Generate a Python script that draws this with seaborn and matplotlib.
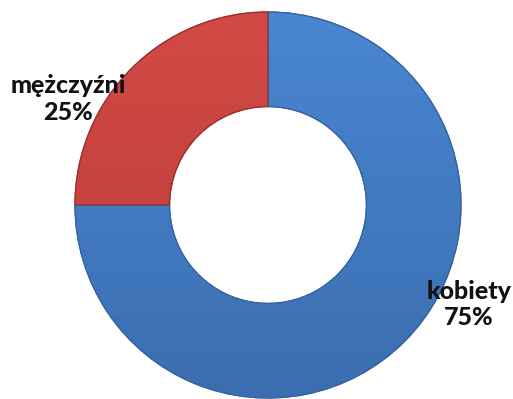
import matplotlib
matplotlib.use("Agg")
import matplotlib.pyplot as plt
import numpy as np
import seaborn as sns
from matplotlib.colors import LinearSegmentedColormap
from matplotlib.patches import PathPatch

categories = ["kobiety", "mężczyźni"]
shares = [75, 25]
colors = ["#4580c8", "#cb4541"]
shade_top = ["#4a86d2", "#d24a45"]
shade_bottom = ["#3b6eb0", "#ba3b38"]
edge_colors = ["#35639f", "#9a2f2c"]

sns.set_theme(style="white")
plt.rcParams["font.family"] = ["Lato", "DejaVu Sans"]

fig = plt.figure(figsize=(5.13, 3.99), dpi=100)
ax = fig.add_axes([0, 0, 1, 1])

wedges, _ = ax.pie(
    shares,
    startangle=90,
    counterclock=False,
    colors=colors,
    radius=1.0,
    wedgeprops=dict(width=0.49, linewidth=0.9),
)

# soft vertical shading inside each ring segment
grad = np.linspace(1, 0, 256).reshape(-1, 1)
for w, top, bot, ec in zip(wedges, shade_top, shade_bottom, edge_colors):
    w.set_edgecolor(ec)
    cmap = LinearSegmentedColormap.from_list("shade", [bot, top])
    im = ax.imshow(grad, cmap=cmap, extent=(-1, 1, -1, 1), aspect="auto",
                   zorder=w.get_zorder() + 0.1, interpolation="bilinear")
    im.set_clip_path(w)
    outline = PathPatch(w.get_path(), transform=w.get_transform(),
                        facecolor="none", edgecolor=ec, linewidth=0.9,
                        zorder=w.get_zorder() + 0.2)
    ax.add_patch(outline)

# label placement in data units (pie radius = 1)
label_pos = {"kobiety": (1.041, -0.516), "mężczyźni": (-1.036, 0.549)}
for cat, val in zip(categories, shares):
    x, y = label_pos[cat]
    ax.text(x, y, f"{cat}\n{val}%", ha="center", va="center",
            fontsize=18, fontweight="black", color="#111111", linespacing=1.2,
            zorder=5)

scale = 193.0
ax.set_xlim(-268 / scale, (513 - 268) / scale)
ax.set_ylim(-(399 - 205) / scale, 205 / scale)
ax.set_aspect("equal")
ax.axis("off")

fig.savefig("out.png", dpi=100)
